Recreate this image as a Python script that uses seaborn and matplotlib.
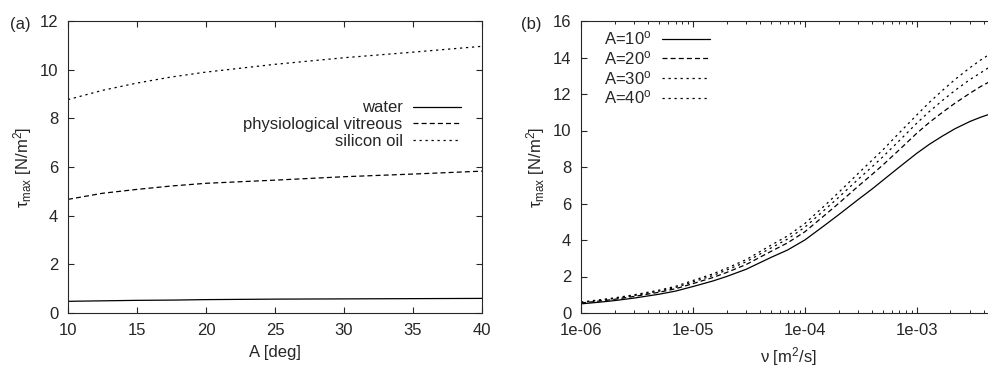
import numpy as np
import pandas as pd
import matplotlib
matplotlib.use("Agg")
import matplotlib.pyplot as plt
import matplotlib.ticker as mticker
import seaborn as sns

# ---- data: panel (a) ----
angle_deg = [10, 12.5, 15, 17.5, 20, 25, 30, 35, 40]
water = [0.48, 0.50, 0.52, 0.53, 0.55, 0.57, 0.58, 0.59, 0.60]
vitreous = [4.67, 4.92, 5.08, 5.22, 5.33, 5.46, 5.60, 5.71, 5.83]
silicon_oil = [8.77, 9.15, 9.45, 9.70, 9.90, 10.22, 10.49, 10.72, 10.96]
fluid_labels = ["water", "physiological vitreous", "silicon oil"]

# ---- data: panel (b) ----
nu = [1e-6, 1.5e-6, 2e-6, 3e-6, 5e-6, 7e-6, 1e-5, 1.5e-5, 2e-5, 3e-5, 5e-5,
      7e-5, 1e-4, 1.5e-4, 2e-4, 3e-4, 4e-4, 5e-4, 7e-4, 1e-3, 1.3e-3, 1.7e-3,
      2.2e-3, 3e-3, 3.7e-3, 4.4e-3]
tau_A10 = [0.50, 0.60, 0.68, 0.82, 1.03, 1.20, 1.45, 1.75, 2.00, 2.40, 3.05,
           3.45, 4.00, 4.80, 5.38, 6.22, 6.80, 7.28, 8.00, 8.75, 9.25, 9.70,
           10.10, 10.50, 10.72, 10.88]
tau_A20 = [0.55, 0.66, 0.75, 0.91, 1.14, 1.33, 1.61, 1.94, 2.22, 2.66, 3.38,
           3.84, 4.45, 5.35, 6.00, 6.95, 7.60, 8.12, 8.95, 9.85, 10.45, 11.00,
           11.50, 12.05, 12.40, 12.65]
tau_A30 = [0.58, 0.70, 0.79, 0.96, 1.20, 1.40, 1.70, 2.05, 2.35, 2.81, 3.57,
           4.05, 4.70, 5.65, 6.33, 7.33, 8.02, 8.57, 9.45, 10.40, 11.05, 11.65,
           12.20, 12.80, 13.15, 13.45]
tau_A40 = [0.60, 0.73, 0.83, 1.00, 1.25, 1.46, 1.78, 2.14, 2.45, 2.93, 3.72,
           4.22, 4.90, 5.88, 6.60, 7.65, 8.38, 8.95, 9.88, 10.85, 11.55, 12.20,
           12.80, 13.45, 13.85, 14.15]
angle_labels = ["A=10$^{\\mathrm{o}}$", "A=20$^{\\mathrm{o}}$",
                "A=30$^{\\mathrm{o}}$", "A=40$^{\\mathrm{o}}$"]
nu_ticks = [1e-6, 1e-5, 1e-4, 1e-3]
nu_tick_labels = ["1e-06", "1e-05", "1e-04", "1e-03"]

sns.set_style("ticks")
plt.rcParams["font.family"] = ["Liberation Sans", "DejaVu Sans"]
plt.rcParams["mathtext.fontset"] = "custom"
plt.rcParams["mathtext.rm"] = "Liberation Sans"
plt.rcParams["mathtext.it"] = "Liberation Sans:italic"
plt.rcParams["font.size"] = 12

fig = plt.figure(figsize=(9.88, 3.69), dpi=100)
W, H = 988, 369
ax1 = fig.add_axes([68 / W, (H - 313) / H, 414 / W, 292 / H])
ax2 = fig.add_axes([581 / W, (H - 313) / H, 414 / W, 292 / H])

# panel (a)
df_a = pd.DataFrame({
    "A": angle_deg * 3,
    "tau": water + vitreous + silicon_oil,
    "fluid": sum([[l] * len(angle_deg) for l in fluid_labels], []),
})
dashes_a = {fluid_labels[0]: "", fluid_labels[1]: (4, 2.5), fluid_labels[2]: (1.8, 3)}
sns.lineplot(data=df_a, x="A", y="tau", style="fluid", dashes=dashes_a,
             color="black", linewidth=0.9, ax=ax1, errorbar=None, sort=True)

# panel (b)
series_b = [tau_A10, tau_A20, tau_A30, tau_A40]
df_b = pd.DataFrame({
    "nu": nu * 4,
    "tau": sum(series_b, []),
    "angle": sum([[l] * len(nu) for l in angle_labels], []),
})
dashes_b = {angle_labels[0]: "", angle_labels[1]: (4, 2.5),
            angle_labels[2]: (1.8, 3), angle_labels[3]: (1.8, 3)}
sns.lineplot(data=df_b, x="nu", y="tau", style="angle", dashes=dashes_b,
             color="black", linewidth=0.9, ax=ax2, errorbar=None, sort=True)

for ax in (ax1, ax2):
    for s in ax.spines.values():
        s.set_linewidth(0.8)
        s.set_visible(True)
    ax.tick_params(which="major", direction="in", length=4.5, width=0.8,
                   top=True, right=True, labelsize=12, pad=7)
    ax.tick_params(which="minor", direction="in", length=2.3, width=0.7,
                   top=True, right=True)

ax1.set_xlim(10, 40)
ax1.set_ylim(0, 12)
ax1.set_xticks(np.arange(10, 41, 5))
ax1.set_yticks(np.arange(0, 13, 2))
ax1.set_xlabel("A [deg]", fontsize=12, labelpad=5)
ax1.set_ylabel("τ$_{\\mathrm{max}}$ [N/m$^{2}$]", fontsize=12, labelpad=4)

ax2.set_xscale("log")
ax2.set_xlim(1e-6, 5e-3)
ax2.set_ylim(0, 16)
ax2.set_yticks(np.arange(0, 17, 2))
ax2.xaxis.set_major_locator(mticker.FixedLocator(nu_ticks))
ax2.xaxis.set_major_formatter(mticker.FixedFormatter(nu_tick_labels))
ax2.xaxis.set_minor_locator(mticker.LogLocator(base=10, subs=np.arange(2, 10)))
ax2.xaxis.set_minor_formatter(mticker.NullFormatter())
ax2.set_xlabel("ν [m$^{2}$/s]", fontsize=12, labelpad=5)
ax2.set_ylabel("τ$_{\\mathrm{max}}$ [N/m$^{2}$]", fontsize=12, labelpad=4)

h1, l1 = ax1.get_legend_handles_labels()
ax1.legend(h1, l1, loc="upper right", bbox_to_anchor=(0.949, 0.728),
           markerfirst=False, frameon=False, fontsize=12, borderpad=0,
           borderaxespad=0, labelspacing=0.1, handlelength=2.9,
           handletextpad=0.6)
h2, l2 = ax2.get_legend_handles_labels()
ax2.legend(h2, l2, loc="upper right", bbox_to_anchor=(0.312, 0.971),
           markerfirst=False, frameon=False, fontsize=12, borderpad=0,
           borderaxespad=0, labelspacing=0.1, handlelength=2.9,
           handletextpad=0.6)

fig.text(10 / W, 1 - 24 / H, "(a)", fontsize=12, va="center", ha="left")
fig.text(521 / W, 1 - 24 / H, "(b)", fontsize=12, va="center", ha="left")

fig.savefig("out.png", dpi=100)
